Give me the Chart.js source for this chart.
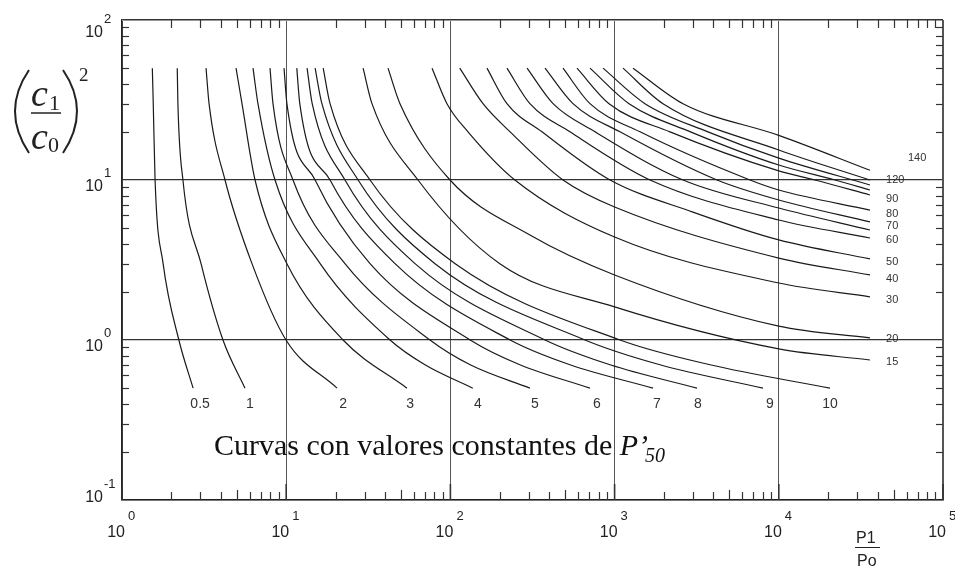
<!DOCTYPE html>
<html>
<head>
<meta charset="utf-8">
<script src="https://cdn.jsdelivr.net/npm/chart.js@4.4.0/dist/chart.umd.min.js"></script>
<style>
  html, body { margin: 0; padding: 0; background: #fff; }
</style>
</head>
<body>
<canvas id="chart" width="955" height="569"></canvas>
<script>
// ticks de los ejes (decadas)
const xTicks = [1, 10, 100, 1000, 10000, 100000];
const xTickExp = ["0", "1", "2", "3", "4", "5"];
const yTicks = [0.1, 1, 10, 100];
const yTickExp = ["-1", "0", "1", "2"];

// curvas de P'50 constante, puntos [P1/P0, (c1/c0)^2]
const c05 = [[1.53, 50], [1.55, 30], [1.59, 10], [1.78, 3], [2.22, 1], [2.71, 0.5]];
const c1 = [[2.17, 50], [2.19, 30], [2.35, 10], [3.03, 3], [4.12, 1], [5.61, 0.5]];
const c2 = [[3.25, 50], [3.39, 30], [4.24, 10], [6.19, 3], [9.97, 1], [20.4, 0.5]];
const c3 = [[4.95, 50], [5.38, 30], [6.46, 10], [10.1, 3], [22.2, 1], [54.4, 0.5]];
const c4 = [[6.28, 50], [6.73, 30], [8.55, 10], [16.1, 3], [42.9, 1], [70, 0.7], [137, 0.5]];
const c5 = [[7.97, 50], [8.31, 30], [11.0, 10], [22.8, 3], [75.1, 1], [132, 0.7], [305, 0.5]];
const c6 = [[9.7, 50], [10.1, 30], [15.0, 10], [32.4, 3], [132, 1], [265, 0.7], [708, 0.5]];
const c7 = [[11.6, 50], [12.1, 30], [18.5, 10], [46, 3], [231, 1], [535, 0.7], [1714, 0.5]];
const c8 = [[13.4, 50], [14.4, 30], [22.8, 10], [60.9, 3], [377, 1], [938, 0.7], [3176, 0.5]];
const c9 = [[15.0, 50], [16.5, 30], [27.4, 10], [80.6, 3], [660, 1], [1890, 0.7], [8013, 0.5]];
const c10 = [[16.8, 50], [18.5, 30], [32.4, 10], [107, 3], [1079, 1], [3811, 0.7], [20500, 0.5]];
const c15 = [[29.4, 50], [33.3, 30], [63.5, 10], [200, 3], [1000, 1.61], [10000, 0.88], [35900, 0.75]];
const c20 = [[41.7, 50], [49.3, 30], [99.5, 10], [305, 4.53], [1000, 2.55], [10000, 1.22], [35900, 1.03]];
const c30 = [[77.3, 50], [95.3, 30], [128, 20], [247, 10], [1000, 4.4], [10000, 2.27], [35900, 1.86]];
const c40 = [[114, 50], [158, 30], [231, 20], [485, 10], [1000, 6.78], [10000, 3.25], [35900, 2.55]];
const c50 = [[167, 50], [221, 30], [361, 20], [938, 10], [3000, 6.3], [10000, 4.22], [35900, 3.21]];
const c60 = [[221, 50], [305, 30], [535, 20], [1643, 10], [10000, 5.62], [35900, 4.34]];
const c65 = [[293, 50], [422, 30], [760, 20], [2610, 10], [10000, 6.68], [35900, 4.87]];
const c70 = [[377, 50], [558, 30], [1079, 20], [4203, 10], [10000, 7.5], [35900, 5.47]];
const c80 = [[485, 50], [708, 30], [1429, 20], [6676, 10], [10000, 8.66], [35900, 6.49]];
const c90 = [[590, 50], [925, 30], [2175, 20], [10000, 11.4], [16600, 10], [35900, 8.06]];
const c100 = [[708, 50], [1224, 30], [2900, 20], [10000, 12.4], [22000, 10], [35900, 8.66]];
const c110 = [[850, 50], [1531, 30], [3700, 20], [10000, 13.7], [35900, 9.31]];
const c120 = [[1125, 50], [1971, 30], [10000, 15.4], [35900, 10]];
const c140 = [[1295, 50], [2610, 30], [10000, 19.0], [35900, 11.5]];

const curves = [c05, c1, c2, c3, c4, c5, c6, c7, c8, c9, c10, c15, c20, c30, c40,
  c50, c60, c65, c70, c80, c90, c100, c110, c120, c140];

// rotulos de las curvas: [texto, P1/P0, (c1/c0)^2]
const bottomLabels = [["0.5", 2.99], ["1", 6.02], ["2", 22.2], ["3", 56.8], ["4", 147], ["5", 327],
  ["6", 781], ["7", 1811], ["8", 3221], ["9", 8836], ["10", 20500]];
const rightLabels = [["140", 61200, 13.7], ["120", 45000, 10], ["90", 45000, 7.6], ["80", 45000, 6.13],
  ["70", 45000, 5.16], ["60", 45000, 4.22], ["50", 45000, 3.07], ["40", 45000, 2.41],
  ["30", 45000, 1.78], ["20", 45000, 1.01], ["15", 45000, 0.73]];

const SANS = "'Liberation Sans', Arial, sans-serif";
const SERIF = "'Liberation Serif', 'Times New Roman', serif";

function seg(ctx, x1, y1, x2, y2) {
  ctx.beginPath(); ctx.moveTo(x1, y1); ctx.lineTo(x2, y2); ctx.stroke();
}

const decorations = {
  id: "decorations",
  afterDraw(chart) {
    const { ctx, chartArea: a, scales: { x, y } } = chart;
    ctx.save();

    // marco superior y derecho
    ctx.strokeStyle = "#999";
    ctx.lineWidth = 1;
    seg(ctx, a.left, a.top + 0.5, a.right, a.top + 0.5);
    ctx.strokeStyle = "#555";
    seg(ctx, a.right - 0.5, a.top, a.right - 0.5, a.bottom);

    // marcas menores hacia dentro
    ctx.strokeStyle = "#333";
    ctx.lineWidth = 1.2;
    for (let e = 0; e < 5; e++) {
      for (let m = 2; m <= 9; m++) {
        const px = Math.round(x.getPixelForValue(m * Math.pow(10, e))) + 0.5;
        seg(ctx, px, a.bottom, px, a.bottom - (m === 5 ? 10 : 8));
        seg(ctx, px, a.top, px, a.top + 8);
      }
    }
    for (let e = -1; e < 2; e++) {
      for (let m = 2; m <= 9; m++) {
        const py = Math.round(y.getPixelForValue(m * Math.pow(10, e))) + 0.5;
        seg(ctx, a.left, py, a.left + 7, py);
        seg(ctx, a.right, py, a.right - 7, py);
      }
    }
    // marcas mayores
    ctx.lineWidth = 1.6;
    xTicks.forEach(v => {
      const px = x.getPixelForValue(v);
      seg(ctx, px, a.bottom, px, a.bottom - 16);
    });

    // etiquetas de los ejes: 10 con exponente
    ctx.fillStyle = "#222";
    ctx.textBaseline = "alphabetic";
    xTicks.forEach((v, i) => {
      const px = x.getPixelForValue(v);
      ctx.font = "16px " + SANS;
      ctx.textAlign = "right";
      ctx.fillText("10", px + 3, a.bottom + 37);
      ctx.font = "13px " + SANS;
      ctx.textAlign = "left";
      ctx.fillText(xTickExp[i], px + 6, a.bottom + 20);
    });
    yTicks.forEach((v, i) => {
      const py = y.getPixelForValue(v);
      const base = Math.min(Math.max(py + 11, 37), 502);
      ctx.font = "16px " + SANS;
      ctx.textAlign = "right";
      ctx.fillText("10", 103, base);
      ctx.font = "13px " + SANS;
      ctx.textAlign = "left";
      ctx.fillText(yTickExp[i], 104, base - 14);
    });

    // rotulos de las curvas
    ctx.fillStyle = "#333";
    ctx.font = "14px " + SANS;
    ctx.textAlign = "center";
    ctx.textBaseline = "middle";
    bottomLabels.forEach(([t, vx]) => {
      ctx.fillText(t, x.getPixelForValue(vx), y.getPixelForValue(0.4));
    });
    ctx.font = "11px " + SANS;
    ctx.textAlign = "left";
    rightLabels.forEach(([t, vx, vy]) => {
      ctx.fillText(t, x.getPixelForValue(vx), y.getPixelForValue(vy));
    });

    // leyenda dentro del grafico
    ctx.fillStyle = "#111";
    ctx.textBaseline = "alphabetic";
    ctx.font = "30px " + SERIF;
    const cap = "Curvas con valores constantes de ";
    ctx.fillText(cap, 214, 455);
    let cx = 214 + ctx.measureText(cap).width;
    ctx.font = "italic 30px " + SERIF;
    ctx.fillText("P\u2019", cx, 455);
    cx += ctx.measureText("P\u2019").width;
    ctx.font = "italic 20px " + SERIF;
    ctx.fillText("50", cx - 3, 462);

    // titulo eje y: (c1/c0)^2
    ctx.strokeStyle = "#222";
    ctx.lineWidth = 2;
    ctx.beginPath(); ctx.moveTo(29, 70); ctx.quadraticCurveTo(1, 111, 29, 153); ctx.stroke();
    ctx.beginPath(); ctx.moveTo(63, 70); ctx.quadraticCurveTo(91, 111, 63, 153); ctx.stroke();
    ctx.lineWidth = 1.5;
    seg(ctx, 31, 113, 61, 113);
    ctx.fillStyle = "#222";
    ctx.font = "italic 38px " + SERIF;
    ctx.fillText("c", 31, 106);
    ctx.fillText("c", 31, 149);
    ctx.font = "22px " + SERIF;
    ctx.fillText("1", 49, 110);
    ctx.fillText("0", 48, 152);
    ctx.font = "19px " + SERIF;
    ctx.fillText("2", 79, 81);

    // titulo eje x: P1/Po
    ctx.font = "16px " + SANS;
    ctx.fillText("P1", 856, 543);
    ctx.fillText("Po", 857, 566);
    ctx.lineWidth = 1;
    seg(ctx, 855, 547.5, 880, 547.5);

    ctx.restore();
  }
};

new Chart(document.getElementById("chart"), {
  type: "line",
  data: {
    datasets: curves.map((pts, i) => ({
      label: "curva " + i,
      data: pts.map(([px, py]) => ({ x: px, y: py })),
      borderColor: "#1a1a1a",
      borderWidth: 1.2,
      pointRadius: 0,
      cubicInterpolationMode: "monotone",
      fill: false
    }))
  },
  options: {
    responsive: false,
    animation: false,
    devicePixelRatio: 1,
    layout: { padding: { left: 122, right: 12, top: 20, bottom: 69 } },
    plugins: { legend: { display: false }, tooltip: { enabled: false } },
    scales: {
      x: {
        type: "logarithmic",
        min: 1,
        max: 100000,
        afterBuildTicks: ax => { ax.ticks = xTicks.map(v => ({ value: v })); },
        ticks: { display: false },
        grid: { color: "#555", lineWidth: 1, drawTicks: false },
        border: { color: "#222", width: 1.5 }
      },
      y: {
        type: "logarithmic",
        min: 0.1,
        max: 100,
        afterBuildTicks: ax => { ax.ticks = yTicks.map(v => ({ value: v })); },
        ticks: { display: false },
        grid: { color: "#333", lineWidth: 1.3, drawTicks: false },
        border: { color: "#222", width: 1.5 }
      }
    }
  },
  plugins: [decorations]
});
</script>
</body>
</html>
